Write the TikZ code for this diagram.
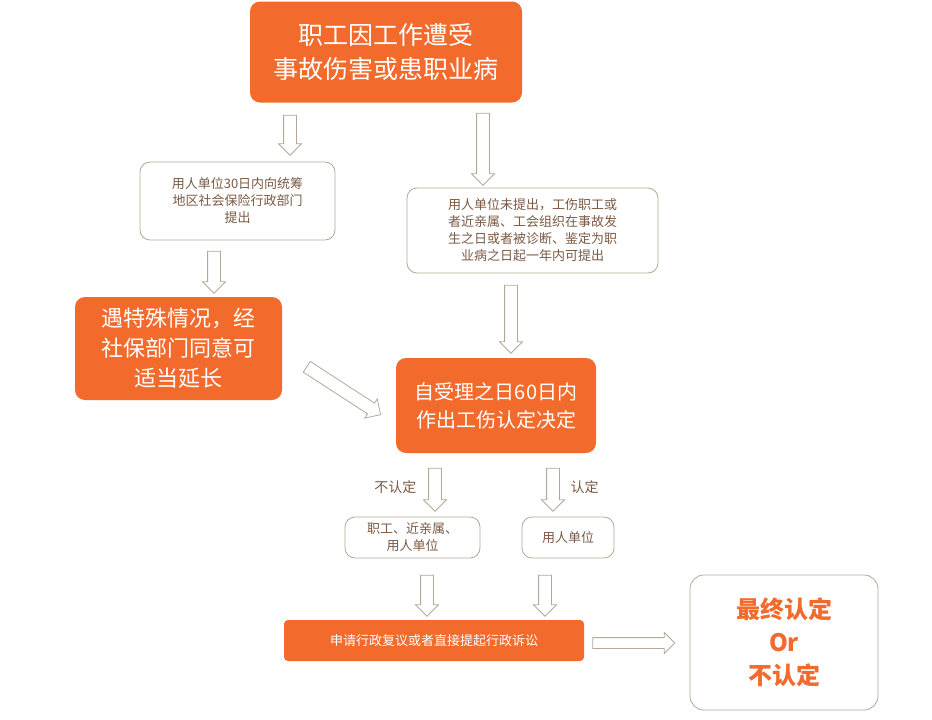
\documentclass[tikz,border=0pt]{standalone}
\usepackage{fontspec}
\setmainfont{Noto Sans CJK SC}
\usetikzlibrary{shapes.arrows}
\definecolor{og}{HTML}{F26A2C}
\definecolor{tx}{HTML}{7A5A44}
\definecolor{bd}{HTML}{B5A898}
\tikzset{
 obox/.style={fill=og,draw=none,rounded corners=10pt,text=white,align=center,inner sep=0pt},
 wbox/.style={fill=white,draw=bd,line width=0.8pt,rounded corners=10pt,text=tx,align=center,inner sep=0pt,font=\fontsize{13}{17}\selectfont},
 harrow/.style={single arrow,draw=bd,fill=white,line width=0.8pt,inner xsep=0pt,inner ysep=6pt,single arrow head extend=5pt,single arrow head indent=0pt},
 lab/.style={text=tx,font=\fontsize{14}{16}\selectfont}
}
\begin{document}
\begin{tikzpicture}[x=1pt,y=-1pt]
\useasboundingbox[fill=white] (0,0) rectangle (932,720);
\node[obox,minimum width=272,minimum height=101,font=\fontsize{25}{34}\selectfont] (top) at (386,52) {职工因工作遭受\\事故伤害或患职业病};
\node[wbox,minimum width=195,minimum height=78] (l1) at (237.5,201) {用人单位30日内向统筹\\地区社会保险行政部门\\提出};
\node[wbox,minimum width=251,minimum height=85] (r1) at (532.5,230.5) {用人单位未提出，工伤职工或\\者近亲属、工会组织在事故发\\生之日或者被诊断、鉴定为职\\业病之日起一年内可提出};
\node[obox,minimum width=207,minimum height=103,font=\fontsize{22}{30}\selectfont] (l2) at (178.5,348.5) {遇特殊情况，经\\社保部门同意可\\适当延长};
\node[obox,minimum width=200,minimum height=95,font=\fontsize{20}{28}\selectfont] (c) at (496,405.5) {自受理之日60日内\\作出工伤认定决定};
\node[wbox,minimum width=135,minimum height=41] (n) at (412.5,537.5) {职工、近亲属、\\用人单位};
\node[wbox,minimum width=92,minimum height=41] (y) at (568,537.5) {用人单位};
\node[obox,rounded corners=4pt,minimum width=300,minimum height=41,font=\fontsize{13}{16}\selectfont] (b) at (434,640.5) {申请行政复议或者直接提起行政诉讼};
\node[wbox,draw=bd,rounded corners=14pt,minimum width=188,minimum height=135,text=og,font=\fontsize{24}{33}\selectfont\bfseries] (f) at (784,642.5) {最终认定\\Or\\不认定};
\node[harrow,minimum height=40,rotate=-90] (a1) at (290,132) {};
\node[harrow,minimum height=72,rotate=-90] (a2) at (483,146) {};
\node[harrow,minimum height=42,rotate=-90] (a3) at (214,269) {};
\node[harrow,minimum height=68,rotate=-90] (a4) at (511,316) {};
\node[harrow,minimum height=88,rotate=-33] (a5) at (341,389) {};
\node[harrow,minimum height=43,rotate=-90] (a6) at (435,486.5) {};
\node[harrow,minimum height=43,rotate=-90] (a7) at (553,486.5) {};
\node[harrow,minimum height=41,rotate=-90] (a8) at (427,592.5) {};
\node[harrow,minimum height=41,rotate=-90] (a9) at (545,592.5) {};
\node[harrow,minimum height=82,inner ysep=5pt] (a10) at (631,643) {};
\node[lab,anchor=east] (ln) at (420,487) {不认定};
\node[lab,anchor=west] (ly) at (567,487) {认定};
\end{tikzpicture}
\end{document}
